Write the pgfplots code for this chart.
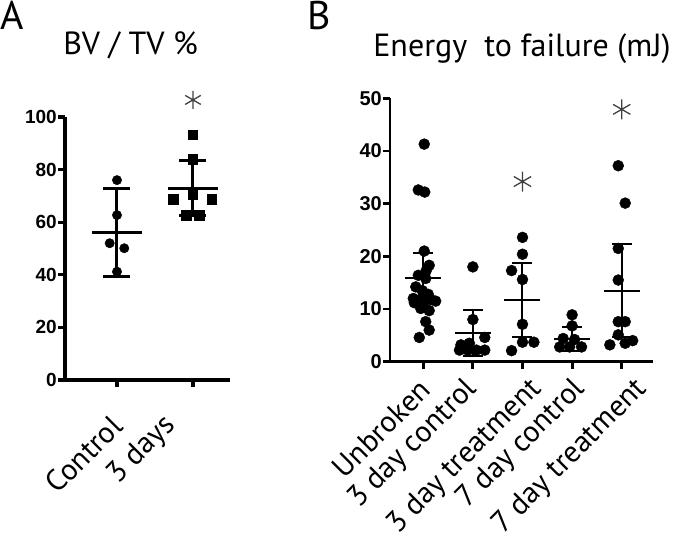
\documentclass[border=0pt]{standalone}
\usepackage{pgfplots}
\pgfplotsset{compat=1.18}
\usepackage{fontspec}
\setmainfont{PT Sans}
\newfontfamily\tickfont{Liberation Sans}

\begin{document}
\begin{tikzpicture}[x=1pt,y=1pt]
\path[use as bounding box] (0,0) rectangle (673,557);

% ---------------- Panel A ----------------
\begin{axis}[
  at={(65pt,177pt)}, anchor=south west, scale only axis,
  width=165pt, height=263pt,
  xmin=-0.684, xmax=1.487, ymin=0, ymax=100,
  axis lines=left, axis line style={line width=3.2pt, -},
  xtick={0,0.71}, xticklabels={Control,3 days},
  xtick style={draw=none},
  extra x ticks={0,1}, extra x tick labels={},
  extra x tick style={xtick style={draw=black}},
  ytick={0,20,...,100},
  tick align=outside, major tick length=7pt,
  tick style={line width=3.2pt, black},
  yticklabel style={font=\tickfont\bfseries\fontsize{19}{19}\selectfont, inner sep=1pt},
  xticklabel style={yshift=-34pt, font=\fontsize{30}{30}\selectfont, rotate=45, anchor=east, inner sep=0pt},
  /pgf/number format/assume math mode=true,
  clip=false,
]
\addplot[only marks, mark=*, mark size=4.7pt, black] coordinates {
  (0,76.0) (0,62.7) (-0.096,52.0) (0.096,50.1) (0,41.2)
};
\addplot[only marks, mark=square*, mark size=4.7pt, black] coordinates {
  (1,93.2) (1,83.9) (1,70.6) (0.74,68.8) (1.25,68.8) (0.91,62.7) (1.08,62.7)
};
\addplot[only marks, black, mark=-, mark size=25pt, mark options={line width=3pt},
  error bars/.cd, y dir=both, y explicit,
  error bar style={line width=3pt, black},
  error mark options={rotate=90, mark size=13.5pt, line width=3pt, black}]
  coordinates {(0,56.2) +- (0,16.7) (1,72.9) +- (0,10.5)};
\addplot[only marks, mark=asterisk, mark size=9pt, mark options={line width=1.3pt, black!75}]
  coordinates {(1,106.5)};
\end{axis}

% ---------------- Panel B ----------------
\begin{axis}[
  at={(390pt,195.3pt)}, anchor=south west, scale only axis,
  width=263pt, height=263.4pt,
  xmin=-0.67, xmax=4.63, ymin=0, ymax=50,
  axis lines=left, axis line style={line width=2.8pt, -},
  xtick={0.04,1,2.30,3.18,4.42},
  xticklabels={Unbroken,3 day control,3 day treatment,7 day control,7 day treatment},
  xtick style={draw=none},
  extra x ticks={0,1,2,3,4}, extra x tick labels={},
  extra x tick style={xtick style={draw=black}},
  ytick={0,10,...,50},
  tick align=outside, major tick length=7pt,
  tick style={line width=2.8pt, black},
  yticklabel style={font=\tickfont\bfseries\fontsize{20}{20}\selectfont, inner sep=1pt},
  xticklabel style={yshift=-16pt, font=\fontsize{30}{30}\selectfont, rotate=45, anchor=east, inner sep=0pt},
  /pgf/number format/assume math mode=true,
  clip=false,
]
\addplot[only marks, mark=*, mark size=5.5pt, black] coordinates {
  (0.02,41.3) (-0.10,32.6) (0.03,32.2) (0.02,21.0) (0.12,18.3) (0.06,17.3)
  (-0.10,16.4) (0.05,15.8) (-0.15,14.2) (-0.02,13.5) (0.10,12.8) (0.0,12.5)
  (-0.20,12.0) (0.15,11.8) (0.25,11.5) (-0.18,11.2) (0.0,11.0) (-0.05,10.1)
  (0.12,9.7) (0.05,7.6) (0.12,6.0) (-0.08,4.6)
};
\addplot[only marks, mark=*, mark size=5.5pt, black] coordinates {
  (1,18.0) (1,8.0) (1.24,4.6) (0.93,3.5) (0.76,3.2) (0.73,2.2) (0.90,2.2) (1.07,2.2) (1.24,2.2)
};
\addplot[only marks, mark=*, mark size=5.5pt, black] coordinates {
  (2,23.6) (2,20.4) (1.78,17.3) (2,15.6) (2,7.1) (1.78,2.1) (2,3.7) (2.23,3.7)
};
\addplot[only marks, mark=*, mark size=5.5pt, black] coordinates {
  (3,8.9) (3,6.8) (2.82,4.4) (3.05,4.2) (2.75,2.8) (2.95,2.8) (3.19,2.8)
};
\addplot[only marks, mark=*, mark size=5.5pt, black] coordinates {
  (3.93,37.2) (4.07,30.1) (3.93,21.5) (3.93,15.5) (3.93,7.6) (4.07,7.6)
  (3.93,5.1) (3.76,3.2) (4.07,3.5) (4.22,4.0)
};
\addplot[only marks, black, mark=-, mark size=18pt, mark options={line width=2pt},
  error bars/.cd, y dir=both, y explicit,
  error bar style={line width=2pt, black},
  error mark options={rotate=90, mark size=10pt, line width=2pt, black}]
  coordinates {(0,15.9) +- (0,4.7) (1,5.45) +- (0,4.45) (2,11.7) +- (0,7.05)
               (3,4.3) +- (0,2.3) (4,13.5) +- (0,8.8)};
\addplot[only marks, mark=asterisk, mark size=10pt, mark options={line width=1.3pt, black!75}]
  coordinates {(2,34.2) (4,47.9)};
\end{axis}

% titles and panel letters
\node[anchor=base west, inner sep=0pt, font=\fontsize{40}{40}\selectfont] at (0,527) {A};
\node[anchor=base, inner sep=0pt, font=\fontsize{32}{32}\selectfont] at (130.5,502) {BV / TV \%};
\node[anchor=base west, inner sep=0pt, font=\fontsize{40}{40}\selectfont] at (307,527) {B};
\node[anchor=base, inner sep=0pt, font=\fontsize{32}{32}\selectfont] at (522,500) {Energy\ \ to failure (mJ)};
\end{tikzpicture}
\end{document}
